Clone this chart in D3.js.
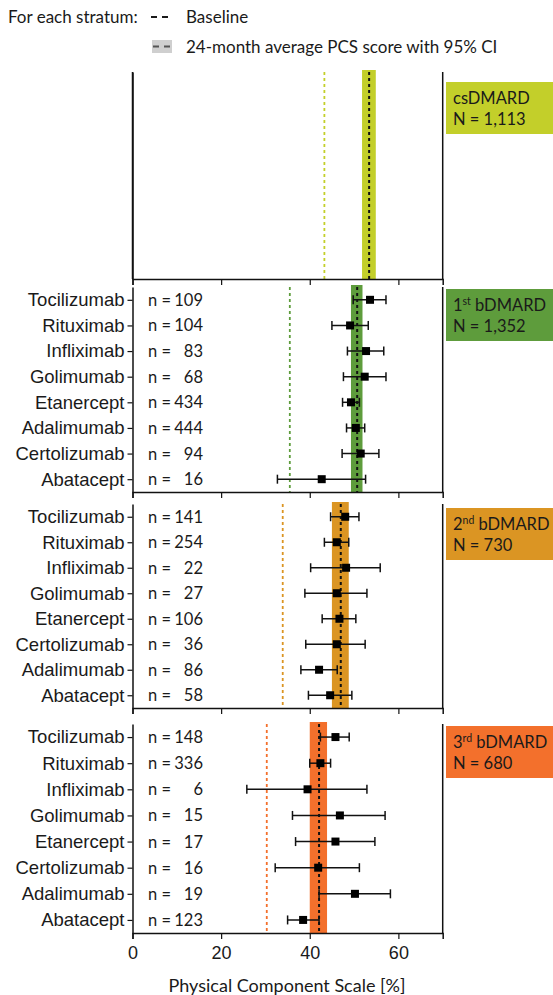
<!DOCTYPE html>
<html>
<head>
<meta charset="utf-8">
<script src="https://cdn.jsdelivr.net/npm/d3@7"></script>
<style>
  body { margin: 0; background: #fff; }
  svg { font-family: Lato, "Open Sans", sans-serif; }
</style>
</head>
<body>
<script>
// strata
var strata = ["csDMARD", "1st bDMARD", "2nd bDMARD", "3rd bDMARD"];
var strataN = ["1,113", "1,352", "730", "680"];
var strataColor = ["#c3cf2a", "#5e9c3c", "#db9523", "#f3702c"];
var baseline = [43.3, 35.5, 33.9, 30.3];
var avgPcs = [53.4, 50.7, 47.0, 42.1];
var avgLo = [51.8, 49.3, 45.0, 40.0];
var avgHi = [54.9, 51.9, 48.8, 43.9];

// drugs per stratum (csDMARD has none)
var drugs1 = ["Tocilizumab", "Rituximab", "Infliximab", "Golimumab", "Etanercept", "Adalimumab", "Certolizumab", "Abatacept"];
var drugs2 = ["Tocilizumab", "Rituximab", "Infliximab", "Golimumab", "Etanercept", "Certolizumab", "Adalimumab", "Abatacept"];
var drugs3 = ["Tocilizumab", "Rituximab", "Infliximab", "Golimumab", "Etanercept", "Certolizumab", "Adalimumab", "Abatacept"];

var n1 = [109, 104, 83, 68, 434, 444, 94, 16];
var n2 = [141, 254, 22, 27, 106, 36, 86, 58];
var n3 = [148, 336, 6, 15, 17, 16, 19, 123];

var mean1 = [53.6, 49.1, 52.7, 52.4, 49.3, 50.4, 51.5, 42.7];
var lo1 = [49.8, 45.0, 48.5, 47.6, 47.4, 48.3, 47.3, 32.7];
var hi1 = [57.2, 53.2, 56.7, 57.2, 51.2, 52.4, 55.6, 52.6];

var mean2 = [48.0, 46.1, 48.2, 46.1, 46.7, 46.1, 42.1, 44.6];
var lo2 = [44.7, 43.3, 40.2, 38.9, 42.8, 39.1, 38.0, 39.7];
var hi2 = [51.1, 48.8, 55.9, 52.9, 50.4, 52.5, 46.2, 49.5];

var mean3 = [45.8, 42.4, 39.5, 46.8, 45.8, 41.9, 50.2, 38.5];
var lo3 = [42.4, 40.0, 25.8, 36.1, 36.8, 32.2, 42.1, 35.0];
var hi3 = [48.9, 44.7, 52.9, 57.0, 54.7, 51.2, 58.2, 42.1];

var xTicks = [0, 20, 40, 60];
var xTitle = "Physical Component Scale [%]";

var W = 553, H = 995;
var ink = "#1a1a1a";
var svg = d3.select("body").append("svg").attr("width", W).attr("height", H);

var x = d3.scaleLinear().domain([0, 70]).range([132.5, 442.7]);

// panel frames (layout only)
var frames = [
  { top: 72, bottom: 279, box: 82, drugs: [], n: [], mean: [], lo: [], hi: [] },
  { top: 287, bottom: 492, box: 289, drugs: drugs1, n: n1, mean: mean1, lo: lo1, hi: hi1 },
  { top: 504, bottom: 708, box: 508, drugs: drugs2, n: n2, mean: mean2, lo: lo2, hi: hi2 },
  { top: 724, bottom: 933, box: 726, drugs: drugs3, n: n3, mean: mean3, lo: lo3, hi: hi3 }
];

// legend
var leg = svg.append("g").attr("font-size", 17).attr("fill", ink);
leg.append("text").attr("x", 8).attr("y", 23).text("For each stratum:");
leg.append("line").attr("x1", 151).attr("x2", 171).attr("y1", 17).attr("y2", 17)
  .attr("stroke", ink).attr("stroke-width", 2).attr("stroke-dasharray", "6,5");
leg.append("text").attr("x", 186).attr("y", 23).text("Baseline");
leg.append("rect").attr("x", 152).attr("y", 40).attr("width", 20).attr("height", 13).attr("fill", "#cfcfcf");
leg.append("line").attr("x1", 153).attr("x2", 172).attr("y1", 46.5).attr("y2", 46.5)
  .attr("stroke", "#555").attr("stroke-width", 2).attr("stroke-dasharray", "6,5");
leg.append("text").attr("x", 186).attr("y", 53).text("24-month average PCS score with 95% CI");

frames.forEach(function (f, i) {
  var g = svg.append("g");
  var col = strataColor[i];

  // CI band of stratum average
  g.append("rect")
    .attr("x", x(avgLo[i])).attr("width", x(avgHi[i]) - x(avgLo[i]))
    .attr("y", f.top - 2).attr("height", f.bottom - f.top + 2)
    .attr("fill", col);

  // baseline
  g.append("line")
    .attr("x1", x(baseline[i])).attr("x2", x(baseline[i]))
    .attr("y1", f.top).attr("y2", f.bottom)
    .attr("stroke", col).attr("stroke-width", 1.8).attr("stroke-dasharray", "3,3");

  // average
  g.append("line")
    .attr("x1", x(avgPcs[i])).attr("x2", x(avgPcs[i]))
    .attr("y1", f.top).attr("y2", f.bottom)
    .attr("stroke", "#111").attr("stroke-width", 2).attr("stroke-dasharray", "3,3");

  var y = d3.scalePoint().domain(f.drugs).range([f.top, f.bottom]).padding(0.5);

  var rows = f.drugs.map(function (d, k) {
    return { drug: d, n: f.n[k], mean: f.mean[k], lo: f.lo[k], hi: f.hi[k] };
  });

  // n labels
  var nl = g.selectAll("g.nlab").data(rows).enter().append("g").attr("class", "nlab")
    .attr("font-size", 16.5).attr("fill", ink);
  nl.append("text").attr("x", 148).attr("y", function (d) { return y(d.drug); })
    .attr("dy", "0.36em").text("n =");
  nl.append("text").attr("x", 203).attr("y", function (d) { return y(d.drug); })
    .attr("dy", "0.36em").attr("text-anchor", "end").text(function (d) { return d.n; });

  // error bars
  var eb = g.selectAll("g.eb").data(rows).enter().append("g").attr("class", "eb")
    .attr("stroke", "#111").attr("stroke-width", 1.5);
  eb.append("line")
    .attr("x1", function (d) { return x(d.lo); }).attr("x2", function (d) { return x(d.hi); })
    .attr("y1", function (d) { return y(d.drug); }).attr("y2", function (d) { return y(d.drug); });
  eb.append("line")
    .attr("x1", function (d) { return x(d.lo); }).attr("x2", function (d) { return x(d.lo); })
    .attr("y1", function (d) { return y(d.drug) - 4.5; }).attr("y2", function (d) { return y(d.drug) + 4.5; });
  eb.append("line")
    .attr("x1", function (d) { return x(d.hi); }).attr("x2", function (d) { return x(d.hi); })
    .attr("y1", function (d) { return y(d.drug) - 4.5; }).attr("y2", function (d) { return y(d.drug) + 4.5; });
  g.selectAll("rect.pt").data(rows).enter().append("rect").attr("class", "pt")
    .attr("x", function (d) { return x(d.mean) - 4; })
    .attr("y", function (d) { return y(d.drug) - 4; })
    .attr("width", 8).attr("height", 8).attr("fill", "#000");

  // left axis
  var ya = g.append("g").attr("transform", "translate(" + x(0) + ",0)")
    .call(d3.axisLeft(y).tickSize(5).tickSizeOuter(0).tickPadding(3));
  ya.select(".domain").attr("stroke", "#111").attr("stroke-width", 1.5);
  ya.selectAll(".tick line").attr("stroke", "#111").attr("stroke-width", 1.2);
  ya.selectAll(".tick text").attr("font-size", 18.5).attr("fill", ink).attr("font-family", null);
  if (f.drugs.length === 0) {
    g.append("line").attr("x1", x(0)).attr("x2", x(0)).attr("y1", f.top).attr("y2", f.bottom)
      .attr("stroke", "#111").attr("stroke-width", 1.5);
  }

  // right frame
  g.append("line").attr("x1", x(70)).attr("x2", x(70)).attr("y1", f.top).attr("y2", f.bottom)
    .attr("stroke", "#111").attr("stroke-width", 1.5);

  // bottom axis
  var last = i === frames.length - 1;
  var xa = g.append("g").attr("transform", "translate(0," + f.bottom + ")")
    .call(d3.axisBottom(x).tickValues(xTicks).tickSize(6).tickSizeOuter(6).tickPadding(7)
      .tickFormat(last ? d3.format("d") : function () { return ""; }));
  xa.select(".domain").attr("stroke", "#111").attr("stroke-width", 1.5);
  xa.selectAll(".tick line").attr("stroke", "#111").attr("stroke-width", 1.2);
  xa.selectAll(".tick text").attr("font-size", 18).attr("fill", ink).attr("font-family", null);

  // stratum label box
  g.append("rect").attr("x", 446).attr("y", f.box).attr("width", W - 446).attr("height", 52)
    .attr("fill", col);
  var name = strata[i];
  var m = name.match(/^(\d)(st|nd|rd|th) (.*)$/);
  var t1 = g.append("text").attr("x", 453).attr("y", f.box + 22).attr("font-size", 16.5).attr("fill", ink);
  if (m) {
    t1.append("tspan").text(m[1]);
    t1.append("tspan").attr("font-size", 10.5).attr("dy", -6).text(m[2]);
    t1.append("tspan").attr("dy", 6).text(" " + m[3]);
  } else {
    t1.text(name);
  }
  g.append("text").attr("x", 453).attr("y", f.box + 43).attr("font-size", 16.5).attr("fill", ink)
    .text("N = " + strataN[i]);
});

svg.append("text").attr("x", 287).attr("y", 992).attr("text-anchor", "middle")
  .attr("font-size", 18).attr("fill", ink).text(xTitle);
</script>
</body>
</html>
